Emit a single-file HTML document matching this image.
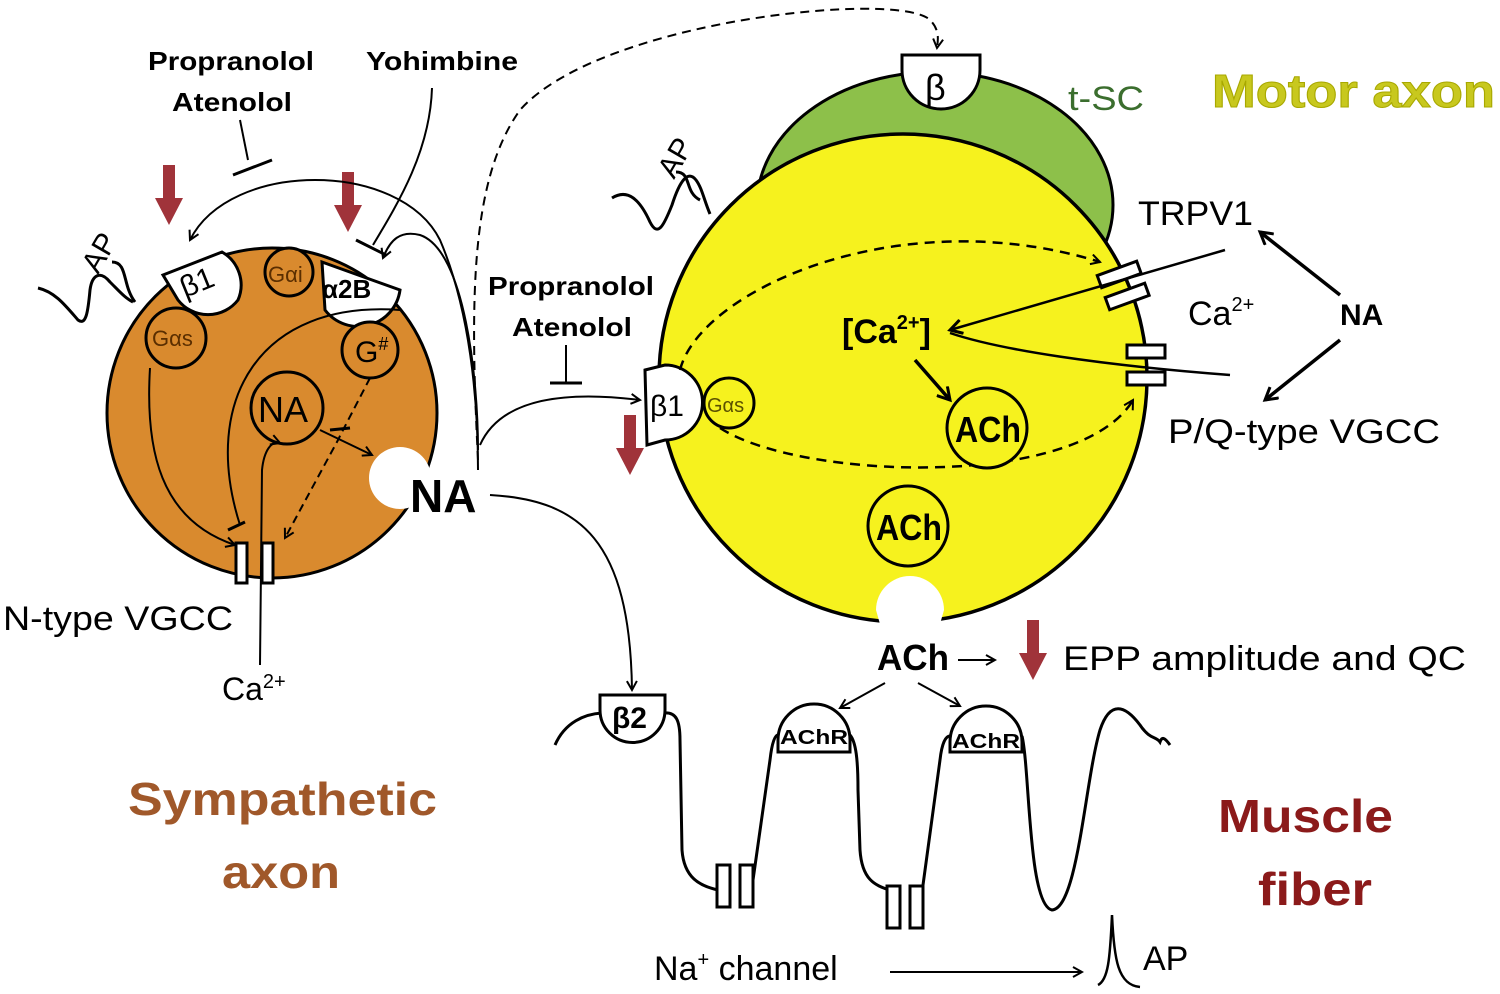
<!DOCTYPE html>
<html><head><meta charset="utf-8"><style>
html,body{margin:0;padding:0;background:#fff}
svg{display:block}
text{font-family:"Liberation Sans",sans-serif}
</style></head><body>
<svg width="1500" height="994" viewBox="0 0 1500 994" xmlns="http://www.w3.org/2000/svg">
<defs>
<marker id="a" markerWidth="12" markerHeight="12" refX="10" refY="6" orient="auto" markerUnits="userSpaceOnUse"><path d="M1,1 L10,6 L1,11" fill="none" stroke="#000" stroke-width="2"/></marker>
<marker id="b" markerWidth="16" markerHeight="16" refX="13" refY="8" orient="auto" markerUnits="userSpaceOnUse"><path d="M1,1 L13,8 L1,15" fill="none" stroke="#000" stroke-width="3"/></marker>
</defs>
<!-- titles -->
<text x="1212" y="107" font-size="46" font-weight="bold" fill="#c8c81e" stroke="#a8a800" stroke-width="1" textLength="283" lengthAdjust="spacingAndGlyphs">Motor axon</text>
<text x="1068" y="110" font-size="34" fill="#3b6e2e" textLength="76" lengthAdjust="spacingAndGlyphs">t-SC</text>
<text x="128" y="815" font-size="46" font-weight="bold" fill="#a0582a" textLength="309" lengthAdjust="spacingAndGlyphs">Sympathetic</text>
<text x="222" y="888" font-size="46" font-weight="bold" fill="#a0582a" textLength="118" lengthAdjust="spacingAndGlyphs">axon</text>
<text x="1218" y="832" font-size="46" font-weight="bold" fill="#8b1a1a" textLength="175" lengthAdjust="spacingAndGlyphs">Muscle</text>
<text x="1258" y="905" font-size="46" font-weight="bold" fill="#8b1a1a" textLength="114" lengthAdjust="spacingAndGlyphs">fiber</text>

<!-- labels top left -->
<text x="148" y="70" font-size="26" font-weight="bold" textLength="166" lengthAdjust="spacingAndGlyphs">Propranolol</text>
<text x="172" y="111" font-size="26" font-weight="bold" textLength="120" lengthAdjust="spacingAndGlyphs">Atenolol</text>
<text x="366" y="70" font-size="26" font-weight="bold" textLength="152" lengthAdjust="spacingAndGlyphs">Yohimbine</text>

<!-- orange circle -->
<circle cx="272" cy="413" r="165" fill="#d98a2e" stroke="#000" stroke-width="3"/>
<!-- AP spike left -->
<path d="M38,288 C55,292 65,305 78,320 C86,326 88,312 90,290 C92,275 100,270 110,282 C120,292 125,298 133,302" fill="none" stroke="#000" stroke-width="3"/>
<path d="M112,262 C128,262 122,285 135,302" fill="none" stroke="#000" stroke-width="3"/>
<text transform="translate(98,275) rotate(-60)" font-size="30">AP</text>
<!-- receptors -->
<path d="M163,275 L222,252 A38,38 0 0 1 238,300 A38,38 0 0 1 178,300 Z" fill="#fff" stroke="#000" stroke-width="3"/>
<text transform="translate(185,298) rotate(-22)" font-size="30" font-family="Liberation Serif">β1</text>
<path d="M322,262 L400,290 A42,42 0 0 1 325,310 Z" fill="#fff" stroke="#000" stroke-width="3"/>
<text x="322" y="298" font-size="26" font-weight="bold">α2B</text>
<circle cx="289" cy="272" r="24" fill="#d98a2e" stroke="#000" stroke-width="3"/>
<text x="268" y="282" font-size="22" fill="#5a2e00">Gαi</text>
<circle cx="176" cy="338" r="30" fill="#d98a2e" stroke="#000" stroke-width="3"/>
<text x="152" y="346" font-size="22" fill="#5a2e00">Gαs</text>
<circle cx="370" cy="350" r="28" fill="#d98a2e" stroke="#000" stroke-width="3"/>
<text x="355" y="362" font-size="30" fill="#000">G<tspan font-size="18" dy="-12">#</tspan></text>
<circle cx="287" cy="408" r="36" fill="#d98a2e" stroke="#000" stroke-width="3"/>
<text x="258" y="422" font-size="36">NA</text>
<!-- vesicle release white -->
<circle cx="400" cy="478" r="31" fill="#fff"/>
<text x="410" y="512" font-size="46" font-weight="bold">NA</text>
<!-- internal arrows -->
<path d="M150,368 C145,450 160,520 235,545" fill="none" stroke="#000" stroke-width="2" marker-end="url(#a)"/>
<path d="M400,310 C260,300 200,400 240,525" fill="none" stroke="#000" stroke-width="2"/>
<path d="M228,530 L245,522" stroke="#000" stroke-width="3"/>
<path d="M260,665 L262,470 C264,450 272,440 280,443" fill="none" stroke="#000" stroke-width="2" marker-end="url(#a)"/>
<path d="M320,430 L372,455" stroke="#000" stroke-width="2" marker-end="url(#a)"/>
<path d="M370,378 L342,432 L338,440 L285,538" stroke="#000" stroke-width="2" stroke-dasharray="8,5" fill="none" marker-end="url(#a)"/>
<path d="M330,430 L350,428" stroke="#000" stroke-width="3"/>
<!-- N VGCC -->
<rect x="236" y="543" width="11" height="40" fill="#fff" stroke="#000" stroke-width="3"/>
<rect x="262" y="543" width="11" height="40" fill="#fff" stroke="#000" stroke-width="3"/>
<text x="3" y="630" font-size="34" textLength="230" lengthAdjust="spacingAndGlyphs">N-type VGCC</text>
<text x="222" y="700" font-size="32">Ca<tspan font-size="20" dy="-12">2+</tspan></text>
<!-- red arrows -->
<path d="M163,165 L175,165 L175,198 L183,198 L169,225 L155,198 L163,198 Z" fill="#a0333a"/>
<path d="M342,172 L354,172 L354,205 L362,205 L348,232 L334,205 L342,205 Z" fill="#a0333a"/>
<path d="M624,415 L636,415 L636,448 L644,448 L630,475 L616,448 L624,448 Z" fill="#a0333a"/>
<path d="M1027,620 L1039,620 L1039,653 L1047,653 L1033,680 L1019,653 L1027,653 Z" fill="#a0333a"/>
<!-- feedback arrows -->
<path d="M478,470 C478,400 470,310 440,240 C400,160 230,160 190,240" fill="none" stroke="#000" stroke-width="2" marker-end="url(#a)"/>
<path d="M478,450 C478,380 465,250 420,235 C400,230 390,240 383,258" fill="none" stroke="#000" stroke-width="2" marker-end="url(#a)"/>
<line x1="240" y1="120" x2="248" y2="160" stroke="#000" stroke-width="2"/>
<line x1="233" y1="175" x2="272" y2="160" stroke="#000" stroke-width="3"/>
<path d="M432,88 C430,150 400,200 373,245" fill="none" stroke="#000" stroke-width="2"/>
<line x1="356" y1="240" x2="386" y2="255" stroke="#000" stroke-width="3"/>
<!-- dashed up -->
<path d="M478,460 C470,300 470,180 520,110 C600,20 900,-10 930,20 C940,30 938,40 937,48" fill="none" stroke="#000" stroke-width="2" stroke-dasharray="9,6" marker-end="url(#a)"/>
<!-- to beta1 motor -->
<path d="M480,445 C500,400 560,390 640,400" fill="none" stroke="#000" stroke-width="2" marker-end="url(#a)"/>
<text x="488" y="295" font-size="26" font-weight="bold" textLength="166" lengthAdjust="spacingAndGlyphs">Propranolol</text>
<text x="512" y="336" font-size="26" font-weight="bold" textLength="120" lengthAdjust="spacingAndGlyphs">Atenolol</text>
<line x1="566" y1="345" x2="566" y2="382" stroke="#000" stroke-width="2"/>
<line x1="550" y1="383" x2="582" y2="383" stroke="#000" stroke-width="3"/>
<!-- to beta2 -->
<path d="M490,495 C580,500 630,540 632,690" fill="none" stroke="#000" stroke-width="2" marker-end="url(#a)"/>

<!-- green tSC -->
<ellipse cx="935" cy="205" rx="178" ry="133" fill="#8dc04a" stroke="#000" stroke-width="3"/>
<path d="M902,55 L980,55 L980,70 A39,39 0 0 1 902,70 Z" fill="#fff" stroke="#000" stroke-width="3"/>
<text x="925" y="100" font-size="36" font-family="Liberation Serif">β</text>
<!-- yellow -->
<circle cx="903" cy="378" r="244" fill="#f6f21e" stroke="#000" stroke-width="3.5"/>
<!-- AP motor -->
<path d="M612,198 C628,188 640,200 650,222 C658,238 664,225 672,205 C680,180 688,170 696,180 C702,188 704,200 710,214" fill="none" stroke="#000" stroke-width="3"/>
<path d="M676,172 C692,172 684,192 700,200" fill="none" stroke="#000" stroke-width="3"/>
<text transform="translate(674,180) rotate(-60)" font-size="30">AP</text>
<!-- beta1 motor -->
<path d="M645,370 L665,365 A28,28 0 0 1 665,440 L647,445 Z" fill="#fff" stroke="#000" stroke-width="3"/>
<text x="650" y="416" font-size="30" font-family="Liberation Serif">β1</text>
<circle cx="729" cy="403" r="25" fill="#f6f21e" stroke="#000" stroke-width="3"/>
<text x="707" y="412" font-size="20" fill="#5a5000">Gαs</text>
<!-- dashed loop -->
<path d="M680,370 C700,290 900,200 1100,262" fill="none" stroke="#000" stroke-width="2.5" stroke-dasharray="10,7" marker-end="url(#a)"/>
<path d="M720,428 C800,480 1080,490 1133,400" fill="none" stroke="#000" stroke-width="2.5" stroke-dasharray="10,7" marker-end="url(#a)"/>
<!-- channels right -->
<rect x="1098" y="268" width="42" height="13" fill="#fff" stroke="#000" stroke-width="3" transform="rotate(-20 1119 274)"/>
<rect x="1106" y="290" width="42" height="13" fill="#fff" stroke="#000" stroke-width="3" transform="rotate(-20 1127 296)"/>
<rect x="1127" y="345" width="38" height="13" fill="#fff" stroke="#000" stroke-width="3"/>
<rect x="1127" y="372" width="38" height="13" fill="#fff" stroke="#000" stroke-width="3"/>
<path d="M1225,250 L950,330" fill="none" stroke="#000" stroke-width="2.5" marker-end="url(#b)"/>
<path d="M1230,375 C1100,365 1000,350 950,333" fill="none" stroke="#000" stroke-width="2.5"/>
<text x="842" y="343" font-size="34" font-weight="bold">[Ca<tspan font-size="20" dy="-14">2+</tspan><tspan dy="14">]</tspan></text>
<path d="M915,360 L950,400" stroke="#000" stroke-width="3.5" marker-end="url(#b)"/>
<circle cx="987" cy="428" r="40" fill="#f6f21e" stroke="#000" stroke-width="3"/>
<text x="955" y="442" font-size="36" font-weight="bold" textLength="66" lengthAdjust="spacingAndGlyphs">ACh</text>
<circle cx="908" cy="526" r="40" fill="#f6f21e" stroke="#000" stroke-width="3"/>
<text x="876" y="540" font-size="36" font-weight="bold" textLength="66" lengthAdjust="spacingAndGlyphs">ACh</text>
<path d="M876,610 A34,34 0 0 1 944,610 L940,624 L880,624 Z" fill="#fff"/>
<text x="1138" y="225" font-size="34" textLength="115" lengthAdjust="spacingAndGlyphs">TRPV1</text>
<text x="1188" y="325" font-size="34">Ca<tspan font-size="20" dy="-14">2+</tspan></text>
<text x="1340" y="325" font-size="30" font-weight="bold">NA</text>
<text x="1168" y="443" font-size="34" textLength="272" lengthAdjust="spacingAndGlyphs">P/Q-type VGCC</text>
<path d="M1340,295 L1260,232" stroke="#000" stroke-width="3.5" marker-end="url(#b)"/>
<path d="M1340,340 L1265,400" stroke="#000" stroke-width="3.5" marker-end="url(#b)"/>

<!-- muscle -->
<text x="877" y="670" font-size="36" font-weight="bold" textLength="72" lengthAdjust="spacingAndGlyphs">ACh</text>
<line x1="958" y1="660" x2="995" y2="660" stroke="#000" stroke-width="2" marker-end="url(#a)"/>
<text x="1063" y="670" font-size="34" textLength="403" lengthAdjust="spacingAndGlyphs">EPP amplitude and QC</text>
<line x1="885" y1="683" x2="840" y2="708" stroke="#000" stroke-width="2" marker-end="url(#a)"/>
<line x1="918" y1="683" x2="960" y2="706" stroke="#000" stroke-width="2" marker-end="url(#a)"/>
<path d="M555,745 C565,722 585,714 602,713 M664,713 C676,712 680,720 680,740 L682,850 C684,878 700,886 718,890 M753,880 L770,760 C772,742 775,735 778,735 M850,735 C856,742 858,760 858,790 L860,850 C862,880 875,885 889,890 M923,885 L940,760 C942,742 946,736 950,736 M1022,736 C1030,770 1028,905 1052,910 C1078,908 1085,780 1100,730 C1110,700 1125,705 1140,725 C1150,740 1156,736 1160,742 C1162,736 1165,738 1170,745" fill="none" stroke="#000" stroke-width="3"/>
<path d="M600,695 L665,695 L665,710 A32,32 0 0 1 600,710 Z" fill="#fff" stroke="#000" stroke-width="3"/>
<text x="612" y="728" font-size="30" font-weight="bold">β2</text>
<path d="M778,752 L778,740 A36,36 0 0 1 850,740 L850,752 Z" fill="#fff" stroke="#000" stroke-width="3"/>
<text x="780" y="744" font-size="20" font-weight="bold" textLength="68" lengthAdjust="spacingAndGlyphs">AChR</text>
<path d="M950,752 L950,742 A36,36 0 0 1 1022,742 L1022,752 Z" fill="#fff" stroke="#000" stroke-width="3"/>
<text x="952" y="748" font-size="20" font-weight="bold" textLength="68" lengthAdjust="spacingAndGlyphs">AChR</text>
<rect x="717" y="865" width="13" height="42" fill="#fff" stroke="#000" stroke-width="3"/>
<rect x="740" y="865" width="13" height="42" fill="#fff" stroke="#000" stroke-width="3"/>
<rect x="887" y="886" width="13" height="42" fill="#fff" stroke="#000" stroke-width="3"/>
<rect x="910" y="886" width="13" height="42" fill="#fff" stroke="#000" stroke-width="3"/>
<text x="654" y="980" font-size="34">Na<tspan font-size="20" dy="-14">+</tspan><tspan dy="14"> channel</tspan></text>
<line x1="890" y1="972" x2="1082" y2="972" stroke="#000" stroke-width="2" marker-end="url(#a)"/>
<path d="M1098,985 C1108,980 1110,960 1112,915 C1114,960 1118,985 1140,987" fill="none" stroke="#000" stroke-width="2.5"/>
<text x="1143" y="970" font-size="34">AP</text>
</svg>
</body></html>
